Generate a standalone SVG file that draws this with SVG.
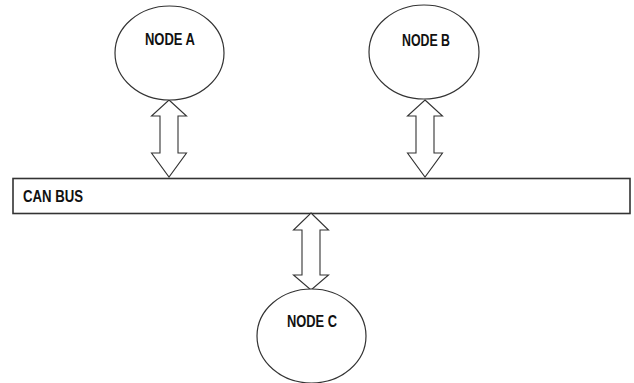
<svg xmlns="http://www.w3.org/2000/svg" width="634" height="383" viewBox="0 0 634 383">
<style>
.node{fill:#fff;stroke:#333;stroke-width:1.2}
.lbl{font-family:"Liberation Sans",Arial,sans-serif;font-weight:bold;font-size:16px;fill:#111}
.arr{fill:#fff;stroke:#333;stroke-width:1.1;stroke-linejoin:miter}
.bus{fill:#fff;stroke:#333;stroke-width:1.6}
</style>
<rect width="634" height="383" fill="#fff"/>
<g id="bus">
<rect class="bus" x="13" y="178.5" width="617" height="35"/>
<text class="lbl" x="23" y="202" textLength="60" lengthAdjust="spacingAndGlyphs">CAN BUS</text>
</g>
<g id="connectors">
<polygon class="arr" points="169,100 186.5,116 178,116 178,153 186.5,153 169,177 151.5,153 160,153 160,116 151.5,116"/>
<polygon class="arr" points="425,100 442.5,116 434,116 434,153 442.5,153 425,177 407.5,153 416,153 416,116 407.5,116"/>
<polygon class="arr" points="311,213 328.5,230 320,230 320,275 328.5,275 311,290 293.5,275 302,275 302,230 293.5,230"/>
</g>
<g id="nodeA">
<ellipse class="node" cx="169.5" cy="53" rx="54.5" ry="47"/>
<text class="lbl" x="170" y="45" text-anchor="middle" textLength="50" lengthAdjust="spacingAndGlyphs">NODE A</text>
</g>
<g id="nodeB">
<ellipse class="node" cx="424" cy="52" rx="55" ry="47"/>
<text class="lbl" x="426" y="46" text-anchor="middle" textLength="48" lengthAdjust="spacingAndGlyphs">NODE B</text>
</g>
<g id="nodeC">
<ellipse class="node" cx="311.5" cy="336" rx="54.5" ry="47"/>
<text class="lbl" x="312" y="327" text-anchor="middle" textLength="50" lengthAdjust="spacingAndGlyphs">NODE C</text>
</g>
</svg>
